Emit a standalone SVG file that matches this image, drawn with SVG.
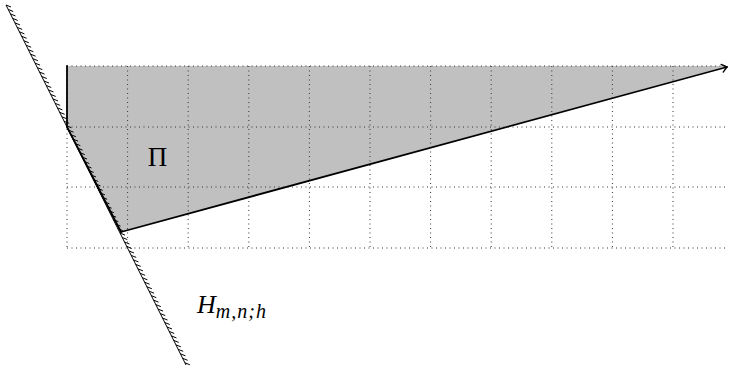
<svg xmlns="http://www.w3.org/2000/svg" width="729" height="373" viewBox="0 0 729 373">
<style>
.grid{stroke:#333;stroke-width:1;stroke-dasharray:1 3.5;fill:none}
.thick{stroke:#000;stroke-width:1.8;fill:none;stroke-linecap:round;stroke-linejoin:round}
.thin{stroke:#000;stroke-width:1;fill:none}
.lbl{font-family:"Liberation Serif","DejaVu Serif",serif;fill:#000}
</style>
<defs>
<marker id="arr" markerUnits="userSpaceOnUse" markerWidth="14" markerHeight="14" refX="0" refY="0" viewBox="-8 -7 10 14" orient="auto">
<path d="M-5,-4 Q-1.5,-1 0,0 Q-1.5,1 -5,4" stroke="#000" stroke-width="1.3" fill="none" stroke-linecap="round"/>
</marker>
</defs>
<g id="region">
<polygon points="67,66 728,66 121,232 67,127" fill="#c0c0c0"/>
</g>
<g id="grid">
<path class="grid" d="M67,66H728M67,127H728M67,187H728M67,248H728"/>
<path class="grid" d="M67,66V248M127.6,66V248M188.2,66V248M248.8,66V248M309.4,66V248M370,66V248M430.6,66V248M491.2,66V248M551.8,66V248M612.4,66V248M673,66V248"/>
</g>
<g id="halfplane">
<path class="thin" d="M6,5L186,365"/>
<path class="thin" d="M6,5l5,2m-2.764,2.472l5,2m-2.764,2.472l5,2m-2.764,2.472l5,2m-2.764,2.472l5,2m-2.764,2.472l5,2m-2.764,2.472l5,2m-2.764,2.472l5,2m-2.764,2.472l5,2m-2.764,2.472l5,2m-2.764,2.472l5,2m-2.764,2.472l5,2m-2.764,2.472l5,2m-2.764,2.472l5,2m-2.764,2.472l5,2m-2.764,2.472l5,2m-2.764,2.472l5,2m-2.764,2.472l5,2m-2.764,2.472l5,2m-2.764,2.472l5,2m-2.764,2.472l5,2m-2.764,2.472l5,2m-2.764,2.472l5,2m-2.764,2.472l5,2m-2.764,2.472l5,2m-2.764,2.472l5,2m-2.764,2.472l5,2m-2.764,2.472l5,2m-2.764,2.472l5,2m-2.764,2.472l5,2m-2.764,2.472l5,2m-2.764,2.472l5,2m-2.764,2.472l5,2m-2.764,2.472l5,2m-2.764,2.472l5,2m-2.764,2.472l5,2m-2.764,2.472l5,2m-2.764,2.472l5,2m-2.764,2.472l5,2m-2.764,2.472l5,2m-2.764,2.472l5,2m-2.764,2.472l5,2m-2.764,2.472l5,2m-2.764,2.472l5,2m-2.764,2.472l5,2m-2.764,2.472l5,2m-2.764,2.472l5,2m-2.764,2.472l5,2m-2.764,2.472l5,2m-2.764,2.472l5,2m-2.764,2.472l5,2m-2.764,2.472l5,2m-2.764,2.472l5,2m-2.764,2.472l5,2m-2.764,2.472l5,2m-2.764,2.472l5,2m-2.764,2.472l5,2m-2.764,2.472l5,2m-2.764,2.472l5,2m-2.764,2.472l5,2m-2.764,2.472l5,2m-2.764,2.472l5,2m-2.764,2.472l5,2m-2.764,2.472l5,2m-2.764,2.472l5,2m-2.764,2.472l5,2m-2.764,2.472l5,2m-2.764,2.472l5,2m-2.764,2.472l5,2m-2.764,2.472l5,2m-2.764,2.472l5,2m-2.764,2.472l5,2m-2.764,2.472l5,2m-2.764,2.472l5,2m-2.764,2.472l5,2m-2.764,2.472l5,2m-2.764,2.472l5,2m-2.764,2.472l5,2m-2.764,2.472l5,2m-2.764,2.472l5,2m-2.764,2.472l5,2"/>
</g>
<g id="connectors">
<path class="thick" d="M67,66V127L121,232" />
<path class="thick" d="M121,232L727,67" marker-end="url(#arr)"/>
</g>
<g id="labels">
<text class="lbl" x="157.5" y="166" font-size="27" text-anchor="middle">Π</text>
<text class="lbl" x="197" y="313" font-size="26" font-style="italic">H<tspan font-size="20" dy="5" letter-spacing="1">m,n;h</tspan></text>
</g>
</svg>
